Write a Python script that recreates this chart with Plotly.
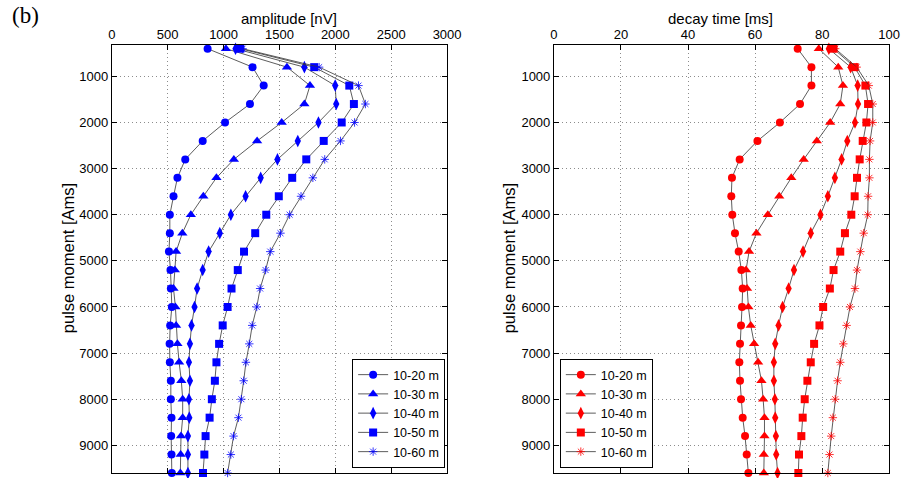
import plotly.graph_objects as go

pulse = [400, 800, 1200, 1600, 2000, 2400, 2800, 3200, 3600, 4000, 4400, 4800,
         5200, 5600, 6000, 6400, 6800, 7200, 7600, 8000, 8400, 8800, 9200, 9600]

labels = ["10-20 m", "10-30 m", "10-40 m", "10-50 m", "10-60 m"]

amp_20 = [857, 1259, 1359, 1236, 1013, 813, 657, 587, 552, 519, 519, 511, 525, 528, 537, 522, 517, 519, 528, 528, 534, 531, 534, 537]
amp_30 = [1021, 1567, 1773, 1723, 1520, 1300, 1092, 936, 819, 707, 631, 575, 564, 552, 569, 575, 587, 602, 622, 634, 634, 619, 616, 613]
amp_40 = [1107, 1723, 1999, 2008, 1849, 1664, 1482, 1332, 1197, 1065, 966, 866, 813, 763, 740, 713, 699, 690, 699, 690, 693, 681, 681, 681]
amp_50 = [1150, 1811, 2125, 2166, 2057, 1896, 1740, 1614, 1494, 1382, 1283, 1183, 1127, 1071, 1036, 992, 960, 936, 922, 895, 875, 839, 828, 816]
amp_60 = [1170, 1855, 2207, 2269, 2172, 2046, 1905, 1799, 1693, 1591, 1509, 1418, 1376, 1327, 1297, 1256, 1230, 1200, 1180, 1159, 1133, 1089, 1065, 1036]

dec_20 = [72.7, 76.8, 76.8, 73.4, 67.4, 60.7, 55.4, 53.1, 52.9, 53.2, 54.0, 55.1, 55.9, 56.3, 56.1, 55.8, 55.5, 55.3, 55.5, 55.8, 56.3, 57.0, 57.5, 58.0]
dec_30 = [79.0, 84.8, 86.2, 85.4, 82.4, 78.4, 74.5, 70.8, 67.2, 63.8, 60.4, 58.2, 57.3, 57.6, 58.0, 58.7, 59.7, 60.9, 61.9, 62.4, 62.8, 62.8, 62.6, 62.6]
dec_40 = [82.0, 88.5, 90.6, 90.7, 89.8, 87.5, 85.8, 83.8, 81.7, 79.5, 76.6, 74.3, 71.6, 70.0, 68.2, 67.0, 66.0, 65.6, 65.6, 65.9, 66.0, 66.2, 66.3, 66.7]
dec_50 = [83.4, 89.7, 92.9, 93.7, 93.2, 92.1, 91.2, 90.4, 89.7, 88.7, 86.8, 85.4, 83.4, 82.3, 80.3, 79.2, 77.6, 76.6, 75.6, 74.8, 74.2, 73.8, 73.1, 72.9]
dec_60 = [83.9, 90.3, 93.9, 95.1, 95.1, 94.3, 94.1, 94.1, 93.7, 93.6, 92.4, 91.4, 90.4, 89.8, 88.3, 87.3, 86.3, 85.4, 84.6, 83.9, 83.2, 82.7, 82.2, 81.7]

amp_series = [amp_20, amp_30, amp_40, amp_50, amp_60]
dec_series = [dec_20, dec_30, dec_40, dec_50, dec_60]

symbols = ["circle", "triangle-up", "diamond-tall", "square", "asterisk-open"]
sizes = [8, 9, 9, 8, 7]

W, H = 913, 478
FONT = "Liberation Sans, Arial, sans-serif"

fig = go.Figure()

def add_series(series, color, xa, ya, legend):
    for vals, lab, sym, sz in zip(series, labels, symbols, sizes):
        if sym == "asterisk-open":
            marker = dict(symbol=sym, size=sz, color=color, line=dict(color=color, width=0.8))
        else:
            marker = dict(symbol=sym, size=sz, color=color, line=dict(color=color, width=0))
        fig.add_trace(go.Scatter(
            x=vals, y=pulse, mode="lines+markers", name=lab,
            line=dict(color="#333333", width=0.8),
            marker=marker, xaxis=xa, yaxis=ya, legend=legend, cliponaxis=False,
        ))

add_series(amp_series, "#0000ff", "x", "y", "legend")
add_series(dec_series, "#ff0000", "x2", "y2", "legend2")

ytop = 1 - 45 / H
ybot = 1 - 473 / H

axis_common = dict(
    showline=True, linecolor="black", linewidth=1, mirror="ticks",
    ticks="inside", ticklen=5, tickcolor="black",
    showgrid=True, gridcolor="#8c8c8c", griddash="1px,3px", gridwidth=1,
    zeroline=False, tickfont=dict(family=FONT, size=13, color="black"),
)

fig.update_layout(
    width=W, height=H,
    margin=dict(l=0, r=0, t=0, b=0),
    paper_bgcolor="white", plot_bgcolor="white",
    xaxis=dict(domain=[110 / W, 452 / W], anchor="y", side="top", range=[0, 3000],
               tickvals=[0, 500, 1000, 1500, 2000, 2500, 3000], **axis_common),
    yaxis=dict(domain=[ybot, ytop], anchor="x", range=[9600, 320],
               tickvals=[1000, 2000, 3000, 4000, 5000, 6000, 7000, 8000, 9000], **axis_common),
    xaxis2=dict(domain=[561 / W, 903 / W], anchor="y2", side="top", range=[0, 100],
                tickvals=[0, 20, 40, 60, 80, 100], **axis_common),
    yaxis2=dict(domain=[ybot, ytop], anchor="x2", range=[9600, 320],
                tickvals=[1000, 2000, 3000, 4000, 5000, 6000, 7000, 8000, 9000], **axis_common),
    legend=dict(x=450 / W, xanchor="right", y=1 - 468 / H, yanchor="bottom",
                bgcolor="white", bordercolor="black", borderwidth=1,
                font=dict(family=FONT, size=12.5, color="black"),
                tracegroupgap=0, itemwidth=30),
    legend2=dict(x=567 / W, xanchor="left", y=1 - 468 / H, yanchor="bottom",
                 bgcolor="white", bordercolor="black", borderwidth=1,
                 font=dict(family=FONT, size=12.5, color="black"),
                 tracegroupgap=0, itemwidth=30),
    showlegend=True,
)

top_font = dict(family=FONT, size=15, color="black")
side_font = dict(family=FONT, size=16.5, color="black")
fig.add_annotation(text="amplitude [nV]", x=291 / W, y=1 - 18 / H, xref="paper", yref="paper",
                   showarrow=False, font=top_font, xanchor="center", yanchor="middle")
fig.add_annotation(text="decay time [ms]", x=731 / W, y=1 - 18 / H, xref="paper", yref="paper",
                   showarrow=False, font=top_font, xanchor="center", yanchor="middle")
fig.add_annotation(text="pulse moment [Ams]", x=65.5 / W, y=1 - 258 / H, xref="paper", yref="paper",
                   showarrow=False, font=side_font, textangle=-90, xanchor="center", yanchor="middle")
fig.add_annotation(text="pulse moment [Ams]", x=515.5 / W, y=1 - 258 / H, xref="paper", yref="paper",
                   showarrow=False, font=side_font, textangle=-90, xanchor="center", yanchor="middle")
fig.add_annotation(text="(b)", x=6 / W, y=1 - 16 / H, xref="paper", yref="paper",
                   showarrow=False, font=dict(family="Liberation Serif, Times New Roman, serif", size=23, color="black"),
                   xanchor="left", yanchor="middle")

fig.write_html("out.html")
